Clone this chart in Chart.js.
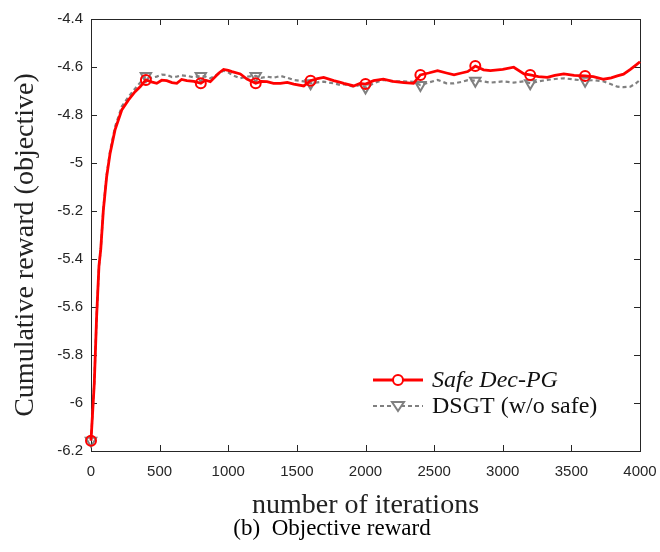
<!DOCTYPE html>
<html>
<head>
<meta charset="utf-8">
<script src="https://cdn.jsdelivr.net/npm/chart.js@4.4.1/dist/chart.umd.min.js"></script>
<style>
  html, body { margin: 0; padding: 0; background: #fff; }
  #rewardChart { display: block; }
</style>
</head>
<body>
<canvas id="rewardChart" width="660" height="552"></canvas>
<script>
// values
const iterations = [0, 24, 41, 58, 71, 90, 114, 139, 175, 224, 272, 321, 358, 400, 440, 479, 515, 552, 590, 625, 660, 698, 750, 800, 835, 869, 930, 966, 1000, 1027, 1088, 1136, 1200, 1240, 1282, 1330, 1380, 1430, 1477, 1550, 1600, 1650, 1695, 1768, 1817, 1841, 1914, 1960, 2000, 2059, 2130, 2200, 2280, 2350, 2400, 2460, 2525, 2590, 2645, 2700, 2745, 2800, 2860, 2910, 3000, 3080, 3155, 3200, 3260, 3325, 3380, 3445, 3520, 3600, 3660, 3735, 3790, 3835, 3880, 3930, 3970, 4000];
const safeDecPG = [-6.157, -5.917, -5.64, -5.43, -5.36, -5.196, -5.057, -4.96, -4.862, -4.779, -4.738, -4.703, -4.682, -4.654, -4.662, -4.668, -4.655, -4.657, -4.665, -4.668, -4.652, -4.657, -4.66, -4.668, -4.655, -4.661, -4.626, -4.61, -4.614, -4.619, -4.629, -4.65, -4.668, -4.66, -4.661, -4.668, -4.668, -4.664, -4.671, -4.679, -4.657, -4.648, -4.643, -4.657, -4.664, -4.668, -4.679, -4.668, -4.671, -4.657, -4.651, -4.66, -4.665, -4.668, -4.633, -4.625, -4.615, -4.625, -4.633, -4.625, -4.619, -4.596, -4.612, -4.615, -4.61, -4.601, -4.629, -4.633, -4.64, -4.643, -4.635, -4.629, -4.635, -4.637, -4.64, -4.651, -4.645, -4.637, -4.63, -4.61, -4.592, -4.578];
const dsgt = [-6.157, -5.917, -5.64, -5.43, -5.36, -5.19, -5.05, -4.95, -4.85, -4.765, -4.725, -4.69, -4.665, -4.637, -4.645, -4.64, -4.632, -4.633, -4.642, -4.64, -4.635, -4.637, -4.643, -4.637, -4.64, -4.647, -4.628, -4.615, -4.622, -4.633, -4.647, -4.64, -4.637, -4.645, -4.64, -4.645, -4.637, -4.645, -4.654, -4.66, -4.668, -4.664, -4.661, -4.668, -4.675, -4.672, -4.682, -4.675, -4.685, -4.668, -4.654, -4.66, -4.66, -4.662, -4.675, -4.665, -4.654, -4.668, -4.668, -4.662, -4.655, -4.657, -4.66, -4.665, -4.66, -4.665, -4.66, -4.668, -4.66, -4.654, -4.65, -4.647, -4.652, -4.657, -4.655, -4.66, -4.672, -4.682, -4.684, -4.682, -4.668, -4.654];
const markerIters = [0, 400, 800, 1200, 1600, 2000, 2400, 2800, 3200, 3600];
const xTicks = [0, 500, 1000, 1500, 2000, 2500, 3000, 3500, 4000];
const yTicks = [-6.2, -6, -5.8, -5.6, -5.4, -5.2, -5, -4.8, -4.6, -4.4];
const seriesNames = ['Safe Dec-PG', 'DSGT (w/o safe)'];

const axisColor = '#262626';
const tickFont = { family: '"Liberation Sans", Arial, sans-serif', size: 15 };
const serif = '"Liberation Serif", "Times New Roman", serif';

function markerRadius(r) {
    return (ctx) => markerIters.includes(iterations[ctx.dataIndex]) ? r : 0;
}

// box, inward ticks, y title, caption and legend
const framePlugin = {
    id: 'frame',
    beforeDatasetsDraw(chart) {
        const { ctx, chartArea: a, scales } = chart;
        ctx.save();
        ctx.strokeStyle = axisColor;
        ctx.lineWidth = 1;
        ctx.strokeRect(a.left + 0.5, a.top + 0.5, a.right - a.left, a.bottom - a.top);
        ctx.beginPath();
        xTicks.forEach(v => {
            const px = Math.round(scales.x.getPixelForValue(v)) + 0.5;
            ctx.moveTo(px, a.bottom); ctx.lineTo(px, a.bottom - 6);
            ctx.moveTo(px, a.top); ctx.lineTo(px, a.top + 6);
        });
        yTicks.forEach(v => {
            const py = Math.round(scales.y.getPixelForValue(v)) + 0.5;
            ctx.moveTo(a.left, py); ctx.lineTo(a.left + 6, py);
            ctx.moveTo(a.right, py); ctx.lineTo(a.right - 6, py);
        });
        ctx.stroke();
        ctx.restore();
    },
    afterDraw(chart) {
        const { ctx } = chart;
        ctx.save();
        // y axis title
        ctx.fillStyle = '#222';
        ctx.font = '28px ' + serif;
        ctx.textAlign = 'center';
        ctx.textBaseline = 'middle';
        ctx.translate(26, 245);
        ctx.rotate(-Math.PI / 2);
        ctx.fillText('Cumulative reward (objective)', 0, 0);
        ctx.setTransform(1, 0, 0, 1, 0, 0);
        // caption
        ctx.fillStyle = '#000';
        ctx.font = '23px ' + serif;
        ctx.textBaseline = 'alphabetic';
        ctx.fillText('(b)  Objective reward', 332, 535);

        // legend
        const rows = [380, 406];
        chart.data.datasets.forEach((ds, i) => {
            const y = rows[i];
            ctx.strokeStyle = ds.borderColor;
            ctx.lineWidth = ds.borderWidth;
            ctx.setLineDash(ds.borderDash || []);
            ctx.beginPath();
            ctx.moveTo(373, y); ctx.lineTo(423, y);
            ctx.stroke();
            ctx.setLineDash([]);
            ctx.lineWidth = ds.pointBorderWidth;
            ctx.fillStyle = '#fff';
            if (ds.pointStyle === 'circle') {
                ctx.beginPath();
                ctx.arc(398, y, 5, 0, Math.PI * 2);
                ctx.fill(); ctx.stroke();
            } else {
                ctx.beginPath();
                ctx.moveTo(392, y - 4); ctx.lineTo(404, y - 4); ctx.lineTo(398, y + 5);
                ctx.closePath();
                ctx.fill(); ctx.stroke();
            }
            ctx.fillStyle = '#111';
            ctx.font = (i === 0 ? 'italic ' : '') + '24px ' + serif;
            ctx.textAlign = 'left';
            ctx.textBaseline = 'middle';
            ctx.fillText(seriesNames[i], 432, y + 1);
        });
        ctx.restore();
    }
};

new Chart(document.getElementById('rewardChart'), {
    type: 'line',
    data: {
        datasets: [
            {
                label: seriesNames[0],
                data: iterations.map((x, i) => ({ x: x, y: safeDecPG[i] })),
                borderColor: '#ff0000',
                borderWidth: 2.8,
                pointStyle: 'circle',
                pointRadius: markerRadius(5),
                pointBorderWidth: 2,
                pointBorderColor: '#ff0000',
                pointBackgroundColor: 'rgba(0,0,0,0)',
                tension: 0,
                clip: false,
            },
            {
                label: seriesNames[1],
                data: iterations.map((x, i) => ({ x: x, y: dsgt[i] })),
                borderColor: '#808080',
                borderWidth: 2.2,
                borderDash: [4, 3],
                pointStyle: 'triangle',
                rotation: 180,
                pointRadius: markerRadius(6),
                pointBorderWidth: 2,
                pointBorderColor: '#808080',
                pointBackgroundColor: 'rgba(0,0,0,0)',
                tension: 0,
                clip: false,
            },
        ],
    },
    options: {
        responsive: false,
        animation: false,
        devicePixelRatio: 1,
        layout: { padding: { top: 19, right: 20, left: 0, bottom: 0 } },
        plugins: {
            legend: { display: false },
            tooltip: { enabled: false },
        },
        scales: {
            x: {
                type: 'linear',
                min: 0,
                max: 4000,
                afterBuildTicks: (scale) => { scale.ticks = xTicks.map(v => ({ value: v })); },
                afterFit: (scale) => {
                    scale.height = 101;
                    scale.paddingLeft = 0;
                    scale.paddingRight = 0;
                },
                grid: { display: false, drawTicks: false },
                border: { display: false },
                ticks: {
                    font: tickFont,
                    color: axisColor,
                    padding: 12,
                    maxRotation: 0,
                    autoSkip: false,
                    callback: (v) => String(v),
                },
                title: {
                    display: true,
                    text: 'number of iterations',
                    font: { family: serif, size: 28 },
                    color: '#222',
                    padding: { top: 0, bottom: 30 },
                },
            },
            y: {
                type: 'linear',
                min: -6.2,
                max: -4.4,
                afterBuildTicks: (scale) => { scale.ticks = yTicks.map(v => ({ value: v })); },
                afterFit: (scale) => {
                    scale.width = 91;
                    scale.paddingTop = 0;
                    scale.paddingBottom = 0;
                },
                grid: { display: false, drawTicks: false },
                border: { display: false },
                ticks: {
                    font: tickFont,
                    color: axisColor,
                    padding: 8,
                    autoSkip: false,
                    callback: (v) => String(+v.toFixed(1)),
                },
            },
        },
    },
    plugins: [framePlugin],
});
</script>
</body>
</html>
